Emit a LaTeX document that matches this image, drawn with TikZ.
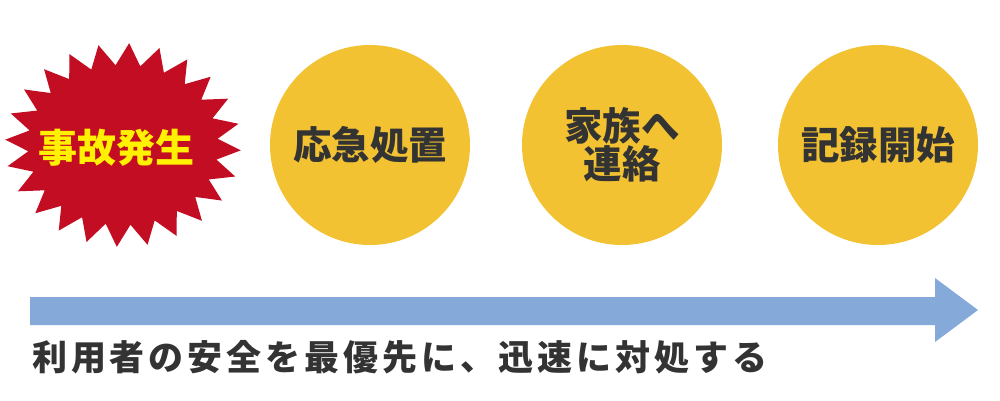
\documentclass[tikz,border=0pt]{standalone}
\usepackage{fontspec}
\newfontfamily\cjk{Noto Sans CJK JP}
\newcommand\lsp{\hspace{3.9pt}}
\definecolor{burstred}{HTML}{C30D23}
\definecolor{burstyel}{HTML}{FFF100}
\definecolor{circyel}{HTML}{F2C232}
\definecolor{arrowblue}{HTML}{85A9D8}
\definecolor{txtdark}{HTML}{333333}
\tikzset{
  stepcirc/.style={circle, fill=circyel, minimum size=200pt, inner sep=0pt},
  steplabel/.style={font=\cjk\bfseries\fontsize{38.5}{42}\selectfont, text=txtdark, align=center},
}
\begin{document}
\begin{tikzpicture}[x=1pt,y=-1pt]
\useasboundingbox (0,0) rectangle (1000,400);
% starburst
\fill[burstred]
  \foreach \i in {0,...,47} {
    \pgfextra{\pgfmathsetmacro\ang{\i*7.5+3}
      \ifodd\i \def\rx{95}\def\ry{80}\else\def\rx{118}\def\ry{102}\fi}
    \ifnum\i=0 (123+\rx*cos \ang, 145+\ry*sin \ang)\else -- (123+\rx*cos \ang, 145+\ry*sin \ang)\fi
  } -- cycle;
\node[font=\cjk\bfseries\fontsize{39}{44}\selectfont, text=burstyel] (s1) at (116,148) {事故発生};
% circles
\node[stepcirc] (c2) at (370,145) {};
\node[steplabel] (t2) at (c2) {応急処置};
\node[stepcirc] (c3) at (622,145) {};
\node[steplabel] (t3) at (c3) {家族へ\\[-4pt]連絡};
\node[stepcirc] (c4) at (878,145) {};
\node[steplabel] (t4) at (c4) {記録開始};
% arrow
\fill[arrowblue] (30,297) -- (935,297) -- (935,278) -- (978,310) -- (935,342) -- (935,325) -- (30,325) -- cycle;
% bottom text
\node[anchor=west, font=\cjk\bfseries\fontsize{35}{40}\selectfont, text=txtdark, inner sep=0pt] (msg) at (32,357) {利\lsp 用\lsp 者\lsp の\lsp 安\lsp 全\lsp を\lsp 最\lsp 優\lsp 先\lsp に\lsp 、\lsp 迅\lsp 速\lsp に\lsp 対\lsp 処\lsp す\lsp る};
\end{tikzpicture}
\end{document}
